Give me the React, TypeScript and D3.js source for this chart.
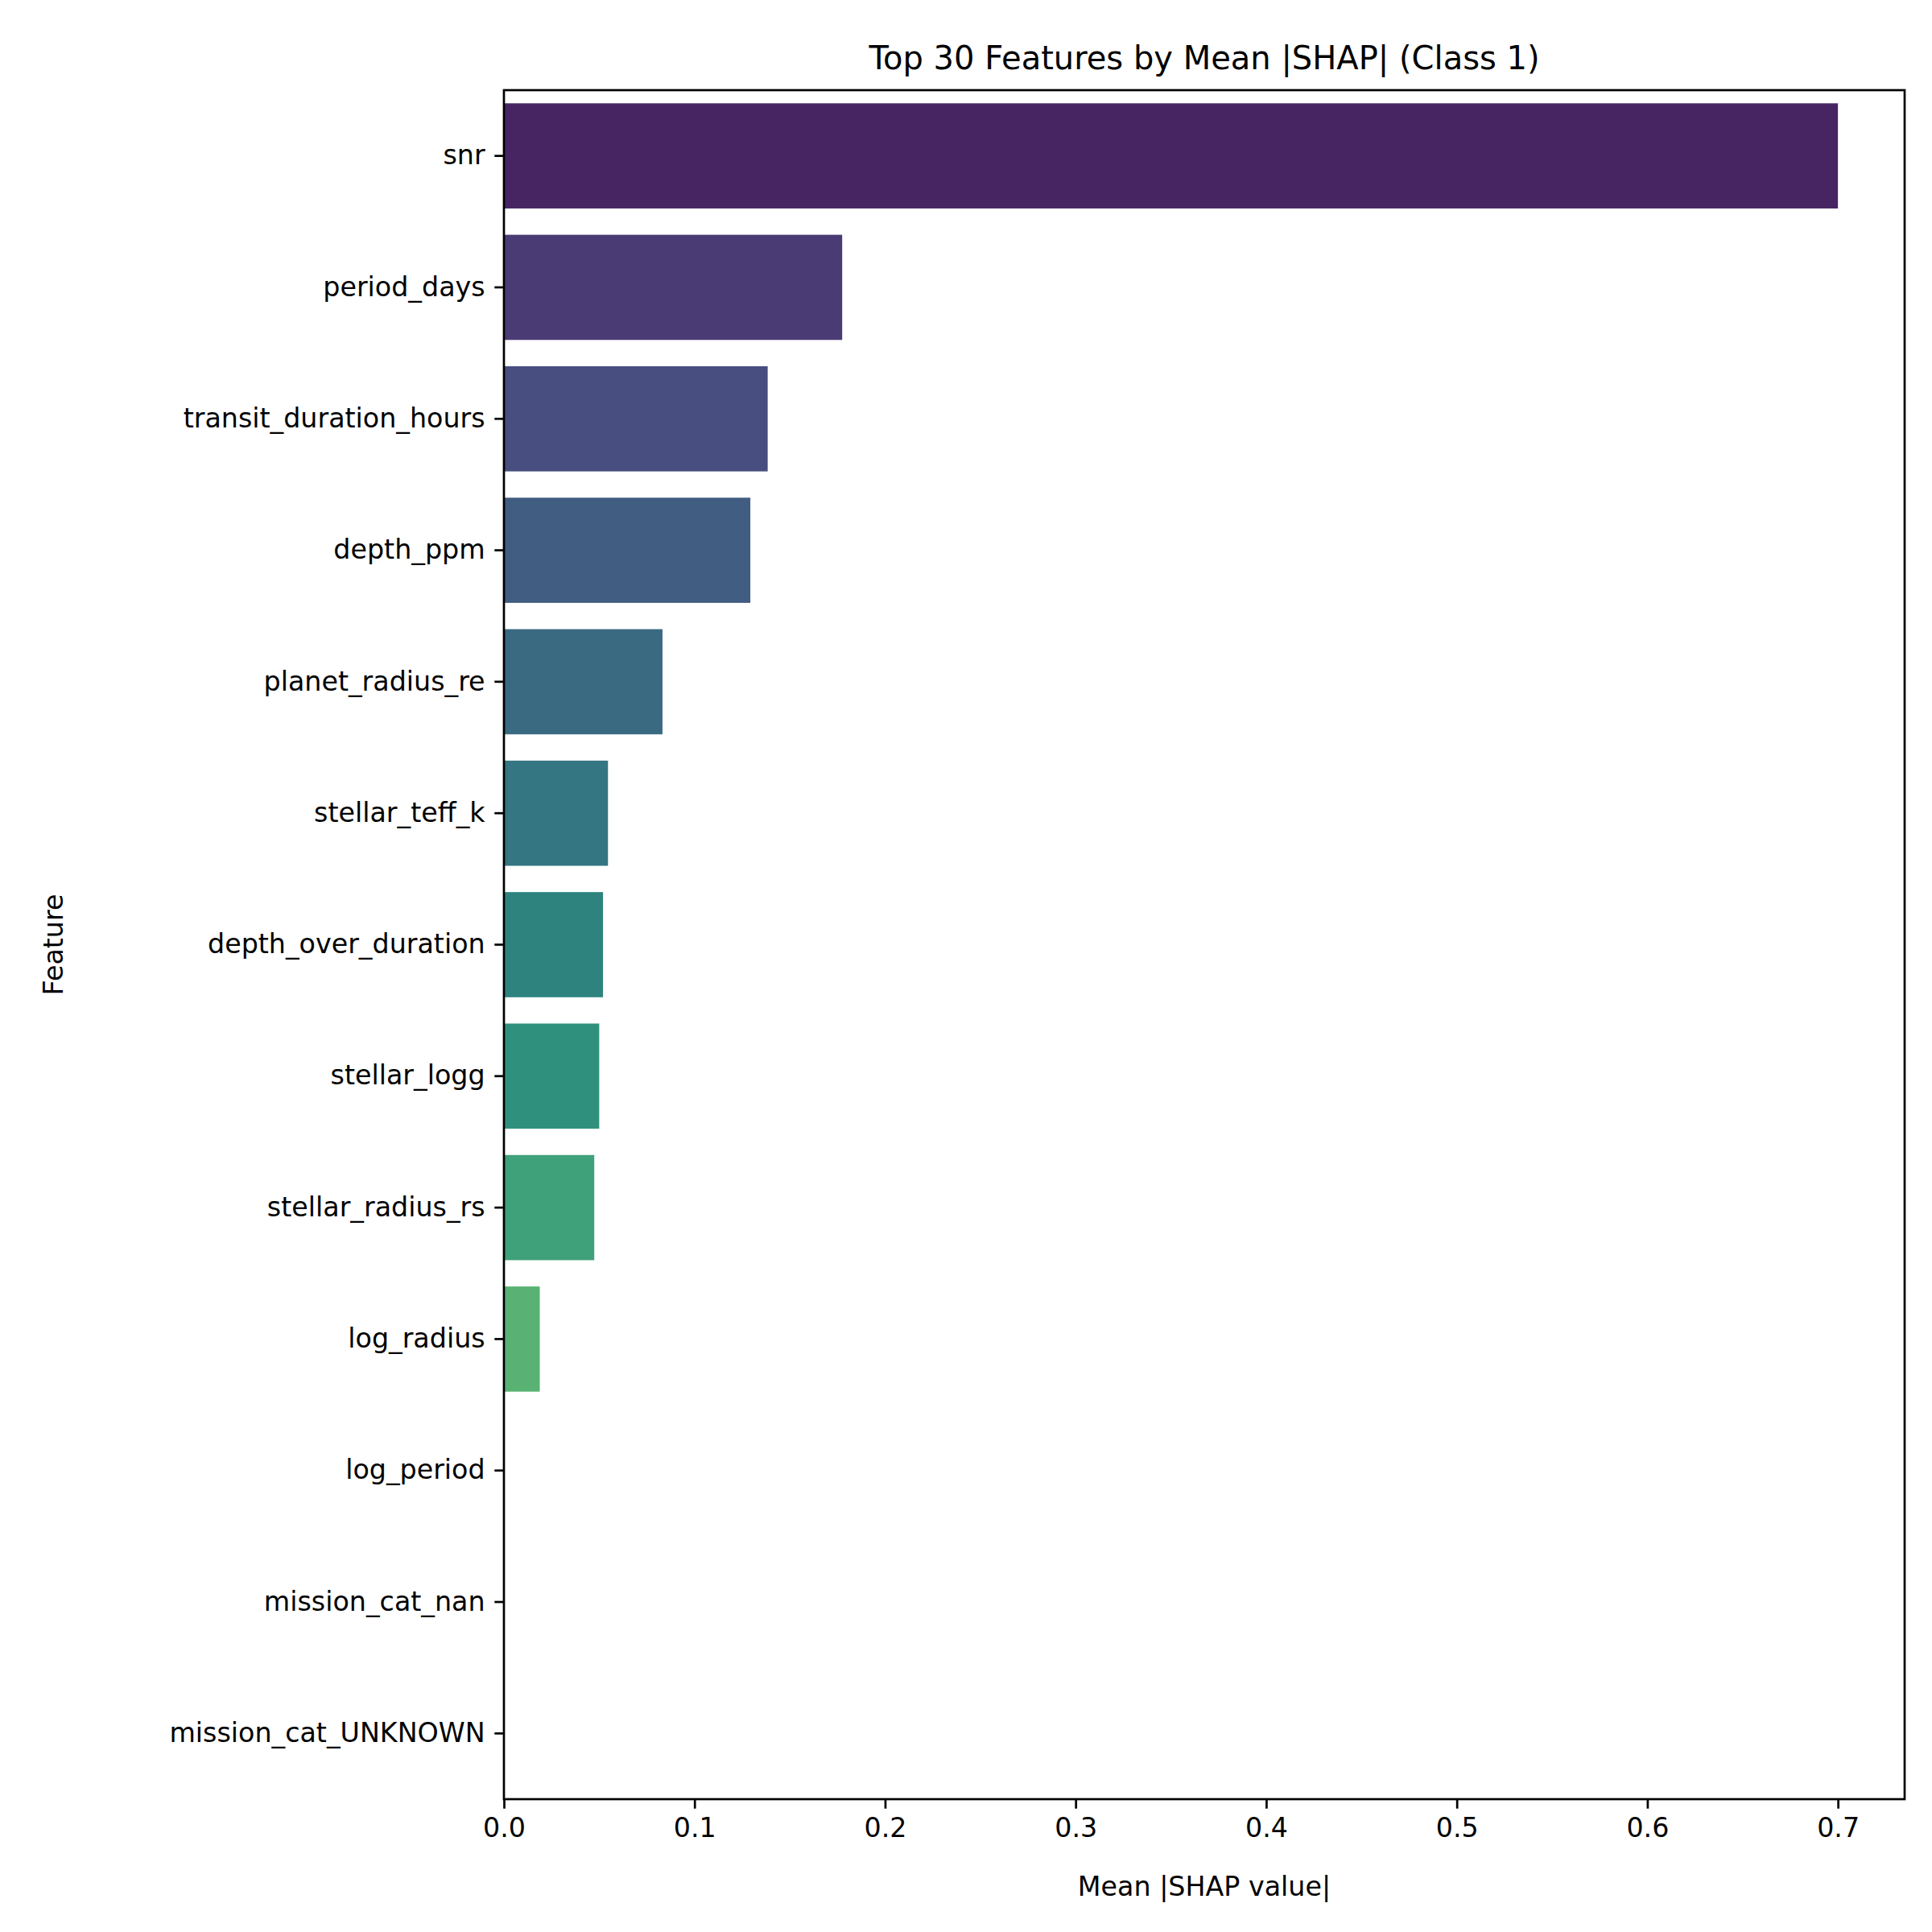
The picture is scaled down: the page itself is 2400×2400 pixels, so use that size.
import React, { useEffect, useRef } from 'react';
import * as d3 from 'd3';

const features = [
  'snr', 'period_days', 'transit_duration_hours', 'depth_ppm', 'planet_radius_re',
  'stellar_teff_k', 'depth_over_duration', 'stellar_logg', 'stellar_radius_rs',
  'log_radius', 'log_period', 'mission_cat_nan', 'mission_cat_UNKNOWN',
];
const values = [0.7, 0.1775, 0.1384, 0.1293, 0.0832, 0.0546, 0.052, 0.05, 0.0474, 0.0188, 0, 0, 0];
const xTicks = [0, 0.1, 0.2, 0.3, 0.4, 0.5, 0.6, 0.7];

const W = 2400, H = 2400;
const M = { left: 626, right: 2366, top: 112, bottom: 2235 };
const FONT = 'DejaVu Sans, sans-serif';

// seaborn-style palette: sample viridis away from the ends, then desaturate
const color = (i: number, n: number) => {
  const c = d3.hsl(d3.interpolateViridis((i + 1) / (n + 1)));
  c.s *= 0.75;
  return c.formatHex();
};

const App = () => {
  const ref = useRef<SVGSVGElement>(null);

  useEffect(() => {
    const svg = d3.select(ref.current);
    svg.selectAll('*').remove();

    const x = d3.scaleLinear().domain([0, 0.735]).range([M.left, M.right]);
    const y = d3.scaleBand<string>().domain(features).range([M.top, M.bottom])
      .paddingInner(0.2).paddingOuter(0.1);

    svg.append('rect').attr('width', W).attr('height', H).attr('fill', '#fff');

    svg.append('g').selectAll('rect').data(features).enter().append('rect')
      .attr('x', x(0))
      .attr('y', d => y(d)!)
      .attr('width', (d, i) => x(values[i]) - x(0))
      .attr('height', y.bandwidth())
      .attr('fill', (d, i) => color(i, features.length));

    const xAxis = svg.append('g')
      .attr('transform', `translate(0,${M.bottom})`)
      .call(d3.axisBottom(x).tickValues(xTicks).tickFormat(d3.format('.1f'))
        .tickSize(11.7).tickPadding(11.7));
    const yAxis = svg.append('g')
      .attr('transform', `translate(${M.left},0)`)
      .call(d3.axisLeft(y).tickSize(11.7).tickPadding(11.7));
    [xAxis, yAxis].forEach(a => {
      a.select('.domain').remove();
      a.selectAll('line').attr('stroke', '#000').attr('stroke-width', 2.7);
      a.selectAll('text').attr('font-family', FONT).attr('font-size', 33.3).attr('fill', '#000');
    });

    svg.append('rect')
      .attr('x', M.left).attr('y', M.top)
      .attr('width', M.right - M.left).attr('height', M.bottom - M.top)
      .attr('fill', 'none').attr('stroke', '#000').attr('stroke-width', 2.7);

    svg.append('text')
      .attr('x', (M.left + M.right) / 2).attr('y', 86)
      .attr('text-anchor', 'middle').attr('font-family', FONT).attr('font-size', 40)
      .text('Top 30 Features by Mean |SHAP| (Class 1)');
    svg.append('text')
      .attr('x', (M.left + M.right) / 2).attr('y', 2355)
      .attr('text-anchor', 'middle').attr('font-family', FONT).attr('font-size', 33.3)
      .text('Mean |SHAP value|');
    svg.append('text')
      .attr('transform', `translate(78,${(M.top + M.bottom) / 2}) rotate(-90)`)
      .attr('text-anchor', 'middle').attr('font-family', FONT).attr('font-size', 33.3)
      .text('Feature');
  }, []);

  return <svg ref={ref} width={W} height={H} style={{ display: 'block', margin: -8 }} />;
};

export default App;
